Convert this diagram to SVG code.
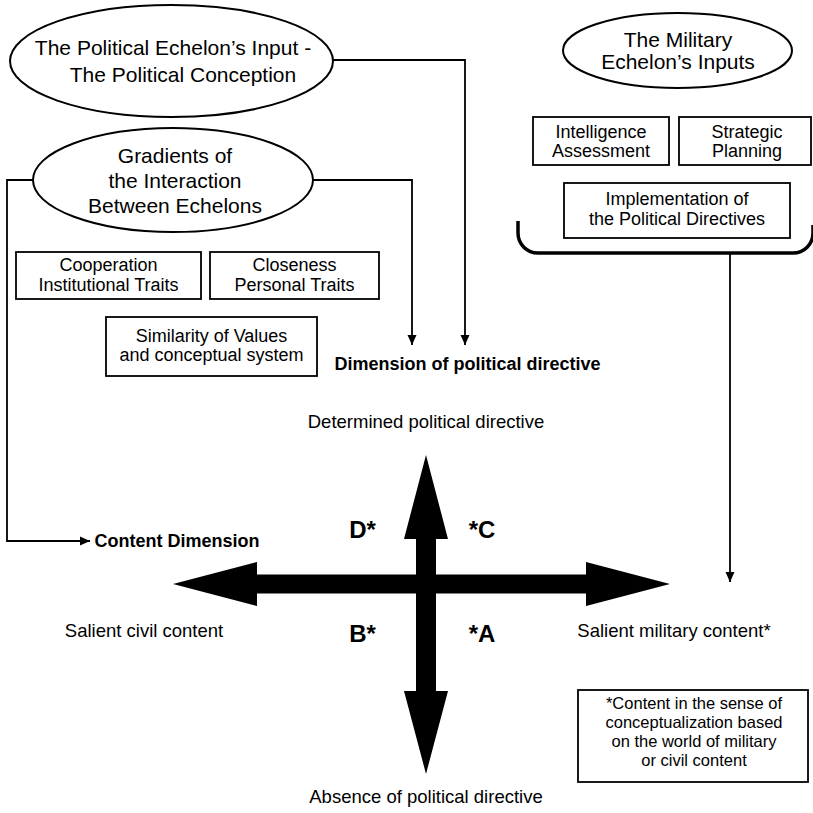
<svg xmlns="http://www.w3.org/2000/svg" width="813" height="813" viewBox="0 0 813 813">
<style>
  text { font-family: "Liberation Sans", Arial, sans-serif; fill: #000; text-anchor: middle; }
  .el { fill: #fff; stroke: #000; stroke-width: 2; }
  .box { fill: #fff; stroke: #000; stroke-width: 1.8; }
  .t21 { font-size: 21px; }
  .t18 { font-size: 18px; }
  .fn { font-size: 16.5px; }
  .lbl { font-size: 18.5px; }
  .b18 { font-size: 18px; font-weight: bold; }
  .quad { font-size: 24px; font-weight: bold; }
  .conn { fill: none; stroke: #000; stroke-width: 1.8; }
</style>
<defs>
  <marker id="ah" viewBox="0 0 10 10" markerWidth="10" markerHeight="10" refX="10" refY="5" orient="auto" markerUnits="userSpaceOnUse">
    <path d="M0,0.5 L10,5 L0,9.5 Z" fill="#000"/>
  </marker>
</defs>

<g id="connectors">
  <path class="conn" d="M333,60 H465 V345" marker-end="url(#ah)"/>
  <path class="conn" d="M313,180 H412 V345" marker-end="url(#ah)"/>
  <path class="conn" d="M33,180 H7 V541 H90" marker-end="url(#ah)"/>
  <path class="conn" d="M730,254 V582" marker-end="url(#ah)"/>
</g>

<g id="political-input">
  <ellipse class="el" cx="171.5" cy="61" rx="161.5" ry="56"/>
  <text class="t21" x="173" y="55">The Political Echelon’s Input -</text>
  <text class="t21" x="183" y="82">The Political Conception</text>
</g>

<g id="gradients">
  <ellipse class="el" cx="173" cy="180" rx="140" ry="52"/>
  <text class="t21" x="175" y="163">Gradients of</text>
  <text class="t21" x="175" y="188">the Interaction</text>
  <text class="t21" x="175" y="213">Between Echelons</text>
</g>

<g id="cooperation">
  <rect class="box" x="16" y="252" width="185" height="47"/>
  <text class="t18" x="108.5" y="271">Cooperation</text>
  <text class="t18" x="108.5" y="291">Institutional Traits</text>
</g>

<g id="closeness">
  <rect class="box" x="210" y="252" width="169" height="47"/>
  <text class="t18" x="294.5" y="271">Closeness</text>
  <text class="t18" x="294.5" y="291">Personal Traits</text>
</g>

<g id="similarity">
  <rect class="box" x="106" y="317" width="211" height="59"/>
  <text class="t18" x="211.5" y="342">Similarity of Values</text>
  <text class="t18" x="211.5" y="361">and conceptual system</text>
</g>

<g id="military-inputs">
  <ellipse class="el" cx="677.5" cy="50.5" rx="114.5" ry="37.5"/>
  <text class="t21" x="678" y="47">The Military</text>
  <text class="t21" x="678" y="69">Echelon’s Inputs</text>
</g>

<g id="intelligence">
  <rect class="box" x="533" y="117" width="136" height="48"/>
  <text class="t18" x="601" y="138">Intelligence</text>
  <text class="t18" x="601" y="157">Assessment</text>
</g>

<g id="strategic">
  <rect class="box" x="679" y="117" width="132" height="48"/>
  <text class="t18" x="747" y="138">Strategic</text>
  <text class="t18" x="747" y="157">Planning</text>
</g>

<g id="implementation">
  <rect class="box" x="564" y="183" width="226" height="55"/>
  <text class="t18" x="677" y="205">Implementation of</text>
  <text class="t18" x="677" y="225">the Political Directives</text>
</g>

<g id="bracket">
  <path d="M518,221 V233 A20,20 0 0 0 538,253 H793 A20,20 0 0 0 813,233 V225" fill="none" stroke="#000" stroke-width="3.5"/>
</g>

<g id="axes">
  <path d="M426,455 L448,539 L436,539 L436,691 L448,691 L426,774 L404,691 L416,691 L416,539 L404,539 Z" fill="#000"/>
  <path d="M173,584 L257,562 L257,574.5 L586,574.5 L586,562 L670,584 L586,606 L586,593.5 L257,593.5 L257,606 Z" fill="#000"/>
</g>

<g id="labels">
  <text class="b18" x="467.5" y="370">Dimension of political directive</text>
  <text class="lbl" x="426" y="428">Determined political directive</text>
  <text class="b18" x="177" y="547">Content Dimension</text>
  <text class="lbl" x="144" y="637">Salient civil content</text>
  <text class="lbl" x="674" y="637">Salient military content*</text>
  <text class="lbl" x="426" y="803">Absence of political directive</text>
  <text class="quad" x="362.5" y="538">D*</text>
  <text class="quad" x="482" y="538">*C</text>
  <text class="quad" x="362.5" y="642">B*</text>
  <text class="quad" x="482" y="642">*A</text>
</g>

<g id="footnote">
  <rect class="box" x="578" y="690" width="230" height="92"/>
  <text class="fn" x="694" y="709">*Content in the sense of</text>
  <text class="fn" x="694" y="728">conceptualization based</text>
  <text class="fn" x="694" y="747">on the world of military</text>
  <text class="fn" x="694" y="766">or civil content</text>
</g>
</svg>
